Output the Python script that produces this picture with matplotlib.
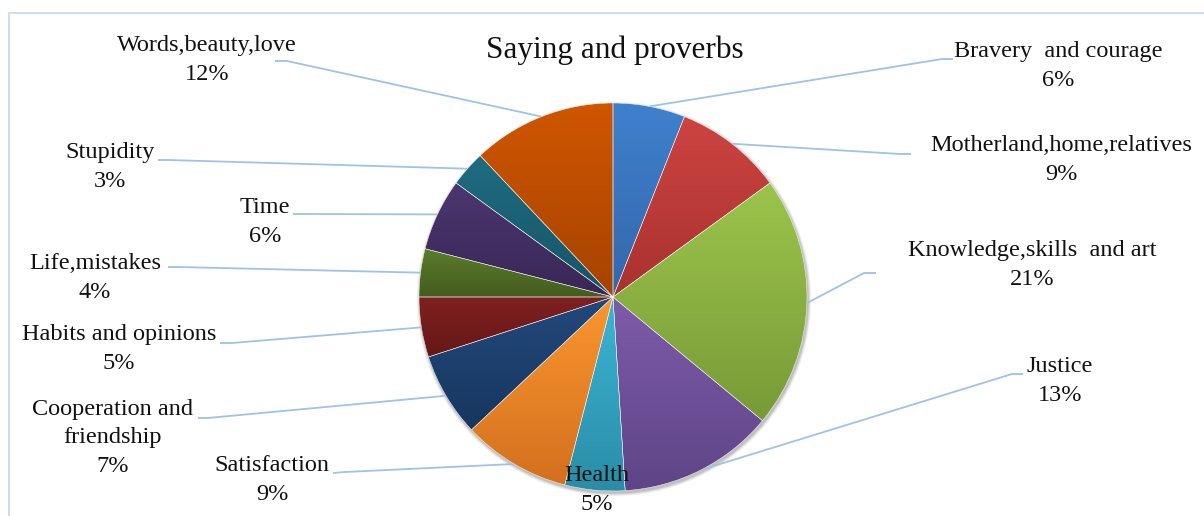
import matplotlib
matplotlib.use("Agg")
import matplotlib.pyplot as plt
import numpy as np
from matplotlib.colors import to_rgb
from matplotlib.patches import Rectangle, Circle

# ---------------- data ----------------
categories = ["Bravery  and courage", "Motherland,home,relatives", "Knowledge,skills  and art",
              "Justice", "Health", "Satisfaction", "Cooperation and\nfriendship",
              "Habits and opinions", "Life,mistakes", "Time", "Stupidity", "Words,beauty,love"]
values = [6, 9, 21, 13, 5, 9, 7, 5, 4, 6, 3, 12]
title = "Saying and proverbs"

# ---------------- styles ----------------
top_colors = ["#3F80CE", "#CD4441", "#9CC44B", "#7E5BA9", "#3CB5D5", "#F9962F",
              "#22497C", "#7F2020", "#5B7D2B", "#4C3670", "#1F6C81", "#D05600"]
bot_colors = ["#3467AA", "#A8322F", "#789A37", "#5E4587", "#2A8DA7", "#D4701E",
              "#17365E", "#661717", "#435C1F", "#392755", "#165466", "#A64300"]

W, H = 1204, 516
CX, CY, R = 613, 297, 194          # pixel layout of the pie
# label block centres (pixel coords) and leader start/elbow points
label_pos = [(1058, 66), (1061, 160), (1032, 265), (1060, 381), (597, 490), (272, 480),
             (113, 438), (119, 349), (95, 278), (265, 222), (110, 167), (207, 60)]
leader_start = [(953, 59), (911, 154), (876, 273), (1023, 374), None, (333, 473),
                (198, 418), (220, 343), (168, 267), (293, 214), (158, 160), (275, 61)]
leader_elbow = [(942, 59), (900, 154), (864, 273), (1012, 374), None, (345, 472),
                (208, 418), (232, 343), (178, 267), (303, 214), (168, 160), (287, 61)]

def Y(y):
    return H - y

plt.rcParams['font.family'] = ['Liberation Serif', 'DejaVu Serif']
fig = plt.figure(figsize=(W / 100, H / 100), dpi=100)
ax = fig.add_axes([0, 0, 1, 1])

# frame
ax.add_patch(Rectangle((9, -20), W + 40, Y(13) + 20, fill=False,
                       edgecolor="#CFDDF0", linewidth=1.4, zorder=0))

# soft shadow
for k, a in zip(range(6, 0, -1), [0.02, 0.03, 0.04, 0.05, 0.06, 0.07]):
    ax.add_patch(Circle((CX + 1, Y(CY) - 2), R + k * 0.6, facecolor="black",
                        edgecolor="none", alpha=a, zorder=1))

wedges, _ = ax.pie(values, startangle=90, counterclock=False, center=(CX, Y(CY)),
                   radius=R, wedgeprops=dict(edgecolor="white", linewidth=0.3))

for w, ct, cb in zip(wedges, top_colors, bot_colors):
    w.set_facecolor("none")
    w.set_zorder(3)
    ext = w.get_path().get_extents()
    x0, y0, x1, y1 = ext.x0, ext.y0, ext.x1, ext.y1
    n = 128
    t = np.linspace(0, 1, n)[:, None]
    c0 = np.array(to_rgb(cb)); c1 = np.array(to_rgb(ct))
    grad = (c0 + (c1 - c0) * t)[:, None, :].repeat(2, axis=1)
    im = ax.imshow(grad, extent=[x0, x1, y0, y1], origin="lower",
                   aspect="auto", interpolation="bilinear", zorder=2)
    im.set_clip_path(w)

# leaders and labels
cum = np.cumsum([0] + values)
total = float(sum(values))
for i, (cat, v) in enumerate(zip(categories, values)):
    mid = (cum[i] + cum[i + 1]) / 2 / total * 2 * np.pi
    ex = CX + R * np.sin(mid)
    ey = CY - R * np.cos(mid)
    if leader_start[i] is not None:
        xs = [leader_start[i][0], leader_elbow[i][0], ex]
        ys = [Y(leader_start[i][1]), Y(leader_elbow[i][1]), Y(ey)]
        ax.plot(xs, ys, color="#9DC3E6", linewidth=1.3, zorder=1.5,
                solid_capstyle="butt")
    lx, ly = label_pos[i]
    ax.text(lx, Y(ly), f"{cat}\n{v}%", ha="center", va="center", fontsize=17.5,
            linespacing=1.45, color="#111111", zorder=5)

ax.text(615, Y(50), title, ha="center", va="center", fontsize=22.5, color="#111111", zorder=5)

ax.set_xlim(0, W)
ax.set_ylim(0, H)
ax.set_aspect("equal", adjustable="box")
ax.axis("off")
fig.savefig("out.png", dpi=100)
